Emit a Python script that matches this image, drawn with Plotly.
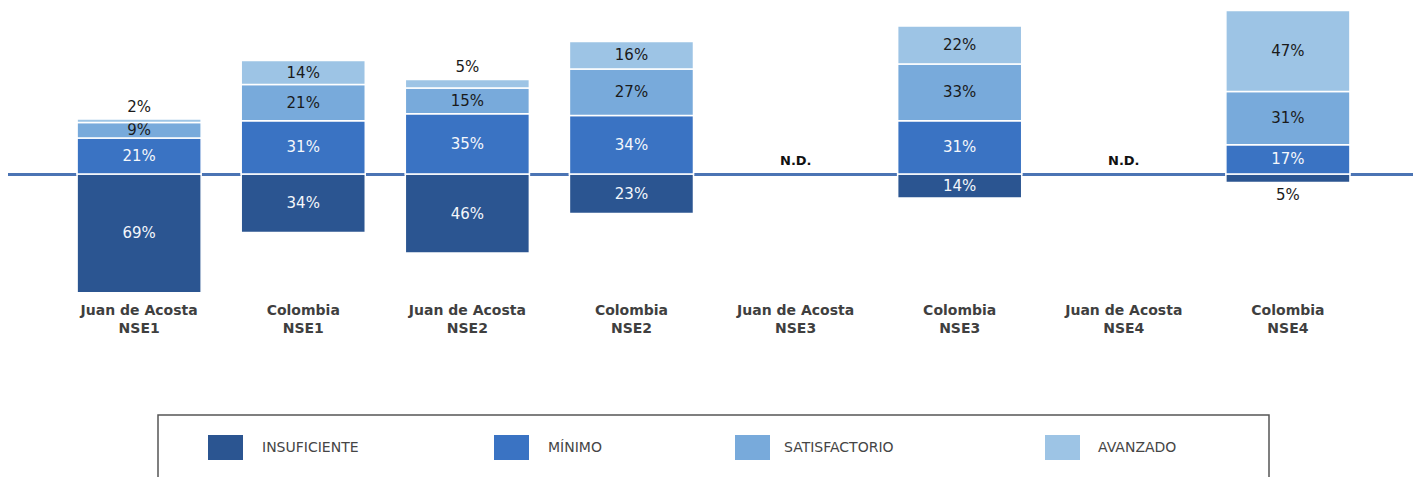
import plotly.graph_objects as go

# ---------------- data ----------------
categories = [
    "Juan de Acosta<br>NSE1", "Colombia<br>NSE1",
    "Juan de Acosta<br>NSE2", "Colombia<br>NSE2",
    "Juan de Acosta<br>NSE3", "Colombia<br>NSE3",
    "Juan de Acosta<br>NSE4", "Colombia<br>NSE4",
]
insuficiente = [69, 34, 46, 23, None, 14, None, 5]
minimo = [21, 31, 35, 34, None, 31, None, 17]
satisfactorio = [9, 21, 15, 27, None, 33, None, 31]
avanzado = [2, 14, 5, 16, None, 22, None, 47]
nd_labels = ["", "", "", "", "N.D.", "", "N.D.", ""]
level_names = ["INSUFICIENTE", "MÍNIMO", "SATISFACTORIO", "AVANZADO"]

# ---------------- styles ----------------
colors = ["#2B5591", "#3A73C3", "#78AADB", "#9DC4E5"]
text_colors = ["#F4F7FB", "#F4F7FB", "#1A1A1A", "#1A1A1A"]
OFF = 8  # page body margin
W, H = 1421 - OFF, 477 - OFF
ML, MR, MT, MB = 0, 0, 0, 177
PW, PH = W - ML - MR, H - MT - MB

x = list(range(len(categories)))
series = [
    [(-v if v is not None else None) for v in insuficiente],
    minimo,
    satisfactorio,
    avanzado,
]
raw = [insuficiente, minimo, satisfactorio, avanzado]
outer = [True, False, False, True]  # outermost segments may put tiny labels outside

fig = go.Figure()
for name, vals, rv, col, tcol, out in zip(level_names, series, raw, colors, text_colors, outer):
    pos = [("outside" if (out and v is not None and v < 6) else "inside") for v in rv]
    fig.add_trace(go.Bar(
        x=x, y=vals, name=name,
        marker=dict(color=col, line=dict(color="white", width=1.5)),
        width=0.756,
        text=[f"{v}%" if v is not None else "" for v in rv],
        textposition=pos,
        insidetextanchor="middle",
        constraintext="none",
        textangle=0,
        insidetextfont=dict(family="DejaVu Sans", size=15, color=tcol),
        outsidetextfont=dict(family="DejaVu Sans", size=15, color="#1A1A1A"),
        cliponaxis=False,
        showlegend=False,
        hoverinfo="skip",
    ))

def px2x(px):
    return (px - OFF - ML) / PW

def py2y(py):
    return (MT + PH - (py - OFF)) / PH

annotations = []
for xi, lab in zip(x, nd_labels):
    if lab:
        annotations.append(dict(
            x=xi, y=0, xref="x", yref="y", text=f"<b>{lab}</b>",
            showarrow=False, yanchor="bottom", yshift=4,
            font=dict(family="DejaVu Sans", size=13, color="#111111"),
        ))

shapes = []
# legend box
shapes.append(dict(type="rect", xref="paper", yref="paper",
                   x0=px2x(158), x1=px2x(1269), y0=py2y(495), y1=py2y(415),
                   line=dict(color="#555555", width=1.5), fillcolor="rgba(0,0,0,0)"))
sw_x = [208, 494, 735, 1045]
tx_x = [260, 546, 782, 1096]
for name, col, sx, tx in zip(level_names, colors, sw_x, tx_x):
    shapes.append(dict(type="rect", xref="paper", yref="paper",
                       x0=px2x(sx), x1=px2x(sx + 35), y0=py2y(460), y1=py2y(435),
                       line=dict(color=col, width=0), fillcolor=col))
    annotations.append(dict(
        x=px2x(tx), y=py2y(447), xref="paper", yref="paper", text=name,
        showarrow=False, xanchor="left", yanchor="middle",
        font=dict(family="DejaVu Sans", size=14, color="#454545"),
    ))

# zero at page y=174 -> fig y=166, 1.72 px per %
fig.update_layout(
    width=W, height=H,
    margin=dict(l=ML, r=MR, t=MT, b=MB),
    barmode="relative",
    paper_bgcolor="white",
    plot_bgcolor="white",
    xaxis=dict(
        range=[-0.799, 7.811], tickmode="array", tickvals=x, ticktext=categories,
        showgrid=False, zeroline=False, showline=False, ticks="",
        tickfont=dict(family="DejaVu Sans", size=14, color="#3F3F3F", weight="bold"),
    ),
    yaxis=dict(
        range=[-126 / 1.72, 166 / 1.72], showgrid=False, showticklabels=False, ticks="",
        zeroline=True, zerolinecolor="#4B74B4", zerolinewidth=2.5,
    ),
    annotations=annotations,
    shapes=shapes,
)

fig.write_html("out.html")
